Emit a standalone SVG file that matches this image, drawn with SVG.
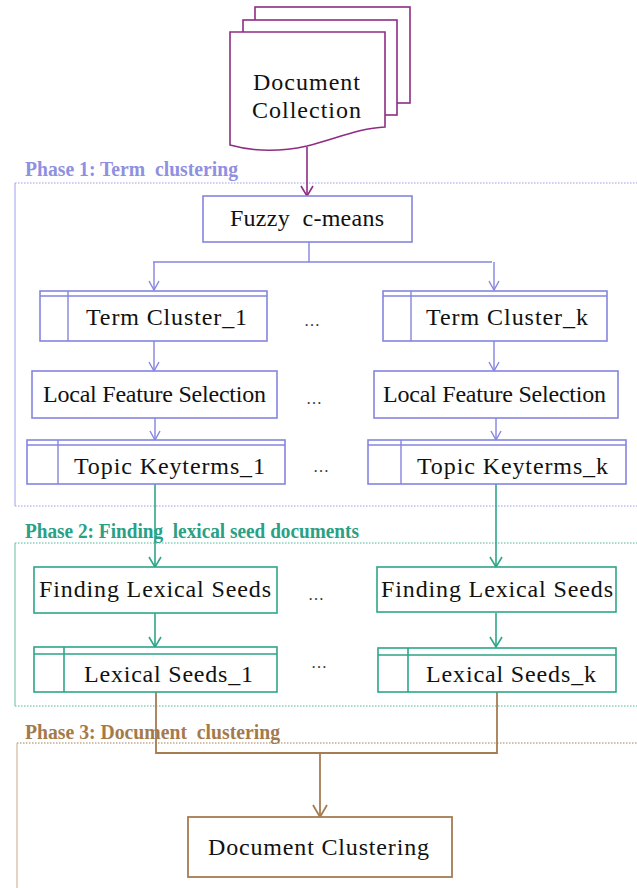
<svg xmlns="http://www.w3.org/2000/svg" width="637" height="888" viewBox="0 0 637 888">
<style>
.t{font-family:"Liberation Serif","Times New Roman",serif;font-size:24px;fill:#111;text-anchor:start}
.ph{font-family:"Liberation Serif","Times New Roman",serif;font-size:20px;font-weight:bold}
.dots{font-family:"Liberation Serif",serif;font-size:16px;fill:#333}
.b{fill:#fff;stroke:#8585e0;stroke-width:1.6}
.g{fill:#fff;stroke:#2ea587;stroke-width:1.6}
.br{fill:#fff;stroke:#a67c52;stroke-width:1.8}
.lb{fill:none;stroke:#8585e0;stroke-width:1.4}
.lg{fill:none;stroke:#2ea587;stroke-width:1.6}
.lbr{fill:none;stroke:#a67c52;stroke-width:1.8}
.lp{fill:none;stroke:#8e2c84;stroke-width:1.6}
</style>
<defs>
<marker id="ab" markerWidth="12" markerHeight="12" refX="10" refY="6" orient="auto" markerUnits="userSpaceOnUse"><path d="M1,1 L10,6 L1,11" fill="none" stroke="#8585e0" stroke-width="1.4"/></marker>
<marker id="ag" markerWidth="12" markerHeight="14" refX="11" refY="7" orient="auto" markerUnits="userSpaceOnUse"><path d="M1,1 L11,7 L1,13" fill="none" stroke="#2ea587" stroke-width="1.6"/></marker>
<marker id="abr" markerWidth="14" markerHeight="16" refX="13" refY="8" orient="auto" markerUnits="userSpaceOnUse"><path d="M1,1 L13,8 L1,15" fill="none" stroke="#a67c52" stroke-width="1.8"/></marker>
<marker id="ap" markerWidth="12" markerHeight="14" refX="11" refY="7" orient="auto" markerUnits="userSpaceOnUse"><path d="M1,1 L11,7 L1,13" fill="none" stroke="#8e2c84" stroke-width="1.6"/></marker>
</defs>

<g id="phases">
  <text class="ph" x="25" y="176" fill="#9090e2" textLength="213" lengthAdjust="spacingAndGlyphs">Phase 1: Term&#160; clustering</text>
  <path d="M15,183 L637,183 M15,506 L637,506" stroke="#9d9de6" stroke-width="1.2" stroke-dasharray="1.5,1.5" fill="none"/>
  <path d="M15,183 L15,506" stroke="#b0b0ee" stroke-width="1.2" fill="none"/>
  <text class="ph" x="25" y="538" fill="#2aa085" textLength="334" lengthAdjust="spacingAndGlyphs">Phase 2: Finding&#160; lexical seed documents</text>
  <path d="M15,543 L637,543 M15,706 L637,706" stroke="#4fb79c" stroke-width="1.2" stroke-dasharray="1.5,1.5" fill="none"/>
  <path d="M15,543 L15,706" stroke="#7cc9b3" stroke-width="1.2" fill="none"/>
  <text class="ph" x="25" y="739" fill="#a57a4a" textLength="255" lengthAdjust="spacingAndGlyphs">Phase 3: Document&#160; clustering</text>
  <path d="M17,743 L637,743" stroke="#a08060" stroke-width="1.2" stroke-dasharray="1.5,1.5" fill="none"/>
  <path d="M17,743 L17,888" stroke="#d0b898" stroke-width="1.2" fill="none"/>
</g>

<g id="connectors">
  <line class="lp" x1="307" y1="147" x2="307" y2="196" marker-end="url(#ap)"/>
  <path class="lb" d="M309,242 L309,262 M153,262 L492,262"/>
  <line class="lb" x1="154" y1="262" x2="154" y2="290" marker-end="url(#ab)"/>
  <line class="lb" x1="494" y1="262" x2="494" y2="290" marker-end="url(#ab)"/>
  <line class="lb" x1="154" y1="341" x2="154" y2="371" marker-end="url(#ab)"/>
  <line class="lb" x1="494" y1="341" x2="494" y2="371" marker-end="url(#ab)"/>
  <line class="lb" x1="155" y1="418" x2="155" y2="440" marker-end="url(#ab)"/>
  <line class="lb" x1="496" y1="418" x2="496" y2="440" marker-end="url(#ab)"/>
  <line class="lg" x1="155" y1="484" x2="155" y2="567" marker-end="url(#ag)"/>
  <line class="lg" x1="496" y1="484" x2="496" y2="567" marker-end="url(#ag)"/>
  <line class="lg" x1="155" y1="613" x2="155" y2="647" marker-end="url(#ag)"/>
  <line class="lg" x1="496" y1="613" x2="496" y2="647" marker-end="url(#ag)"/>
  <path class="lbr" d="M156,692 L156,753 L497,753 L497,692"/>
  <line class="lbr" x1="320" y1="753" x2="320" y2="817" marker-end="url(#abr)"/>
</g>

<g id="doc-collection">
  <rect x="255" y="7" width="155" height="96" fill="#fff" stroke="#8e2c84" stroke-width="1.6"/>
  <rect x="243" y="20" width="154" height="95" fill="#fff" stroke="#8e2c84" stroke-width="1.6"/>
  <path d="M230,32 L385,32 L385,127 C360,128 335,139 307,146 C280,152 255,152 230,145 Z" fill="#fff" stroke="#8e2c84" stroke-width="1.6"/>
  <text class="t" x="253" y="90" textLength="107" lengthAdjust="spacing">Document</text>
  <text class="t" x="252" y="118" textLength="109" lengthAdjust="spacing">Collection</text>
</g>

<g id="fuzzy">
  <rect class="b" x="203" y="196" width="209" height="46"/>
  <text class="t" x="230" y="226" textLength="154" lengthAdjust="spacing">Fuzzy&#160; c-means</text>
</g>

<g id="term-cluster-1">
  <rect class="b" x="40" y="291" width="227" height="50"/>
  <path class="lb" d="M40,296 L267,296 M68,291 L68,341"/>
  <text class="t" x="86" y="325" textLength="161" lengthAdjust="spacing">Term Cluster_1</text>
</g>
<g id="term-cluster-k">
  <rect class="b" x="383" y="291" width="224" height="50"/>
  <path class="lb" d="M383,296 L607,296 M411,291 L411,341"/>
  <text class="t" x="426" y="325" textLength="162" lengthAdjust="spacing">Term Cluster_k</text>
</g>

<g id="lfs-1">
  <rect class="b" x="32" y="371" width="245" height="47"/>
  <text class="t" x="43" y="402" textLength="223" lengthAdjust="spacing">Local Feature Selection</text>
</g>
<g id="lfs-k">
  <rect class="b" x="374" y="371" width="244" height="47"/>
  <text class="t" x="383" y="402" textLength="223" lengthAdjust="spacing">Local Feature Selection</text>
</g>

<g id="topic-1">
  <rect class="b" x="27" y="440" width="258" height="44"/>
  <path class="lb" d="M27,445 L285,445 M58,440 L58,484"/>
  <text class="t" x="74" y="474" textLength="191" lengthAdjust="spacing">Topic Keyterms_1</text>
</g>
<g id="topic-k">
  <rect class="b" x="368" y="440" width="258" height="44"/>
  <path class="lb" d="M368,445 L626,445 M401,440 L401,484"/>
  <text class="t" x="417" y="474" textLength="191" lengthAdjust="spacing">Topic Keyterms_k</text>
</g>

<g id="fls-1">
  <rect class="g" x="34" y="567" width="243" height="46"/>
  <text class="t" x="39" y="597" textLength="232" lengthAdjust="spacing">Finding Lexical Seeds</text>
</g>
<g id="fls-k">
  <rect class="g" x="377" y="567" width="239" height="45"/>
  <text class="t" x="381" y="597" textLength="232" lengthAdjust="spacing">Finding Lexical Seeds</text>
</g>

<g id="seeds-1">
  <rect class="g" x="34" y="647" width="243" height="45"/>
  <path class="lg" d="M34,654 L277,654 M64,647 L64,692"/>
  <text class="t" x="84" y="682" textLength="169" lengthAdjust="spacing">Lexical Seeds_1</text>
</g>
<g id="seeds-k">
  <rect class="g" x="378" y="648" width="238" height="44"/>
  <path class="lg" d="M378,655 L616,655 M408,648 L408,692"/>
  <text class="t" x="426" y="682" textLength="170" lengthAdjust="spacing">Lexical Seeds_k</text>
</g>

<g id="doc-clustering">
  <rect class="br" x="188" y="817" width="264" height="60"/>
  <text class="t" x="208" y="855" textLength="221" lengthAdjust="spacing">Document Clustering</text>
</g>

<g id="ellipses">
  <text class="dots" x="304" y="326">…</text>
  <text class="dots" x="306" y="404">…</text>
  <text class="dots" x="313" y="472">…</text>
  <text class="dots" x="308" y="600">…</text>
  <text class="dots" x="311" y="668">…</text>
</g>
</svg>
